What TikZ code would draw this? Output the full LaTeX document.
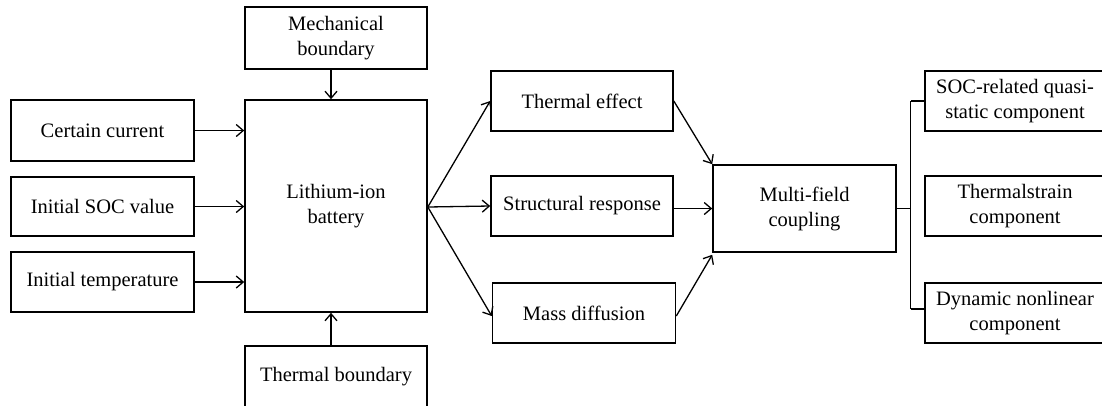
\documentclass[tikz,border=0pt]{standalone}
\usepackage{fontspec}
\setmainfont{Liberation Serif}
\usetikzlibrary{arrows.meta}
\tikzset{
  box/.style={draw=black, line width=1.6pt, rectangle, inner sep=0pt, align=center,
    font=\fontsize{20.5}{25}\selectfont},
  conn/.style={line width=1.3pt, draw=black},
  arr/.style={conn, -{Straight Barb[length=7pt,width=12pt,line width=1.3pt]}}
}
\begin{document}
\begin{tikzpicture}[x=1pt,y=-1pt]
\useasboundingbox (0,0) rectangle (1102,405);
\clip (0,0) rectangle (1102,405);
% left column
\node[box, minimum width=182pt, minimum height=62pt] (mech) at (336,38) {Mechanical\\boundary};
\node[box, minimum width=183pt, minimum height=61pt] (cc) at (102.5,130.5) {Certain current};
\node[box, minimum width=183pt, minimum height=59pt] (soc) at (102.5,206.5) {Initial SOC value};
\node[box, minimum width=183pt, minimum height=60pt] (temp) at (102.5,282) {Initial temperature};
\node[box, minimum width=182pt, minimum height=212pt] (bat) at (336,206) {Lithium-ion\\battery};
\node[box, minimum width=182pt, minimum height=62pt] (thb) at (336,377) {Thermal boundary};
% middle column
\node[box, minimum width=182pt, minimum height=60pt] (te) at (582,101) {Thermal effect};
\node[box, minimum width=182pt, minimum height=60pt] (sr) at (582,206) {Structural response};
\node[box, minimum width=183pt, minimum height=60pt] (md) at (584,313) {Mass diffusion};
\node[box, minimum width=183pt, minimum height=87pt] (mf) at (804.5,208.5) {Multi-field\\coupling};
% right column
\node[box, minimum width=180pt, minimum height=60pt] (c1) at (1015,101) {SOC-related quasi-\\static component};
\node[box, minimum width=180pt, minimum height=60pt] (c2) at (1015,206) {Thermalstrain\\component};
\node[box, minimum width=180pt, minimum height=60pt] (c3) at (1015,313) {Dynamic nonlinear\\component};
% inputs to battery
\draw[arr] ([xshift=-5pt]mech.south) -- ([xshift=-5pt]bat.north);
\draw[arr] ([xshift=-5pt]thb.north) -- ([xshift=-5pt]bat.south);
\draw[arr] (cc.east) -- (cc.east -| bat.west);
\draw[arr] (soc.east) -- (soc.east -| bat.west);
\draw[arr] (temp.east) -- (temp.east -| bat.west);
% fan out
\coordinate (bo) at ([yshift=-1pt]bat.east);
\draw[arr] (bo) -- (te.west);
\draw[arr] (bo) -- (sr.west);
\draw[arr] (bo) -- ([yshift=-3pt]md.west);
% into coupling
\draw[arr] (te.east) -- (mf.north west);
\draw[arr] (sr.east |- mf.west) -- (mf.west);
\draw[arr] ([yshift=-3pt]md.east) -- ([yshift=-2pt]mf.south west);
% tree to components
\coordinate (jn) at ([xshift=14pt]mf.east);
\coordinate (jt) at (jn |- c1.west);
\coordinate (jb) at ([yshift=4pt]jn |- c3.west);
\draw[conn] (mf.east) -- (jn);
\draw[conn] (jt) -- (jb);
\draw[conn] (jt) -- (c1.west);
\draw[conn] (jb) -- (jb -| c3.west);
\end{tikzpicture}
\end{document}
